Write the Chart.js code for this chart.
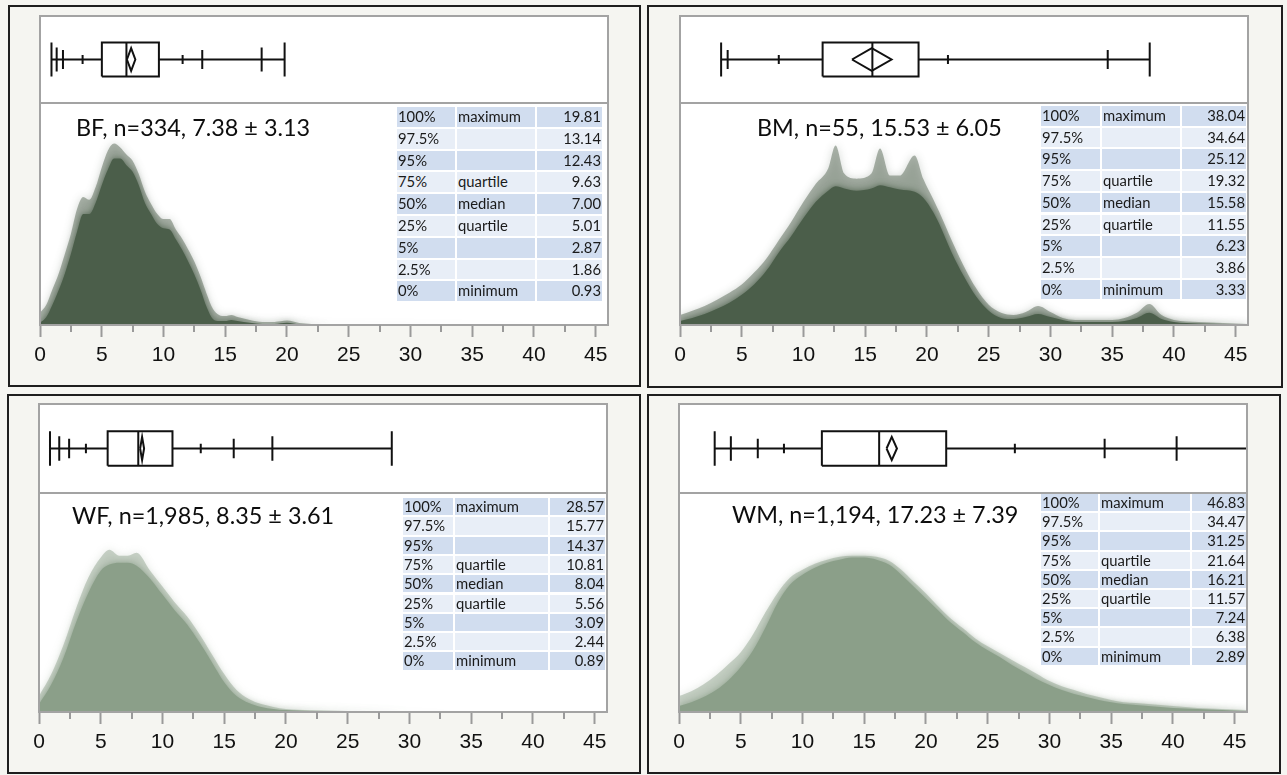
<!DOCTYPE html>
<html>
<head>
<meta charset="utf-8">
<script src="https://cdn.jsdelivr.net/npm/chart.js@4.4.1/dist/chart.umd.min.js"></script>
<style>
  html, body { margin:0; padding:0; width:1287px; height:775px; overflow:hidden; background:#f5f5f1; }
  .panel { position:absolute; box-sizing:border-box; border:2px solid #1e1e1e; background:#f5f5f1; }
  .panel canvas { position:absolute; left:0; top:0; }
  .title { position:absolute; font-family:Lato, "Open Sans", sans-serif; font-size:23.4px; color:#0d0d0d; white-space:nowrap; line-height:26px; height:26px; }
  .cell { position:absolute; box-sizing:border-box; font-family:Lato, "Open Sans", sans-serif; font-size:14.8px; color:#1a1a1a; white-space:nowrap; padding:0 1px; overflow:hidden; }
  .cell.num { text-align:right; }
</style>
</head>
<body>
<script>
// ---------------- data ----------------
const xTickValues = [0, 5, 10, 15, 20, 25, 30, 35, 40, 45];

const groupNames = ['BF', 'BM', 'WF', 'WM'];
const groupN     = [334, 55, 1985, 1194];
const groupMean  = [7.38, 15.53, 8.35, 17.23];
const groupSD    = [3.13, 6.05, 3.61, 7.39];
// 95% confidence interval of the mean (mean diamond)
const bfMeanCI = [7.04, 7.72];
const bmMeanCI = [13.93, 17.13];
const wfMeanCI = [8.19, 8.51];
const wmMeanCI = [16.81, 17.65];

// quantile table rows
const quantileLevels = ['100%', '97.5%', '95%', '75%', '50%', '25%', '5%', '2.5%', '0%'];
const quantileNames  = ['maximum', '', '', 'quartile', 'median', 'quartile', '', '', 'minimum'];
const bfQuantiles = [19.81, 13.14, 12.43, 9.63, 7.00, 5.01, 2.87, 1.86, 0.93];
const bmQuantiles = [38.04, 34.64, 25.12, 19.32, 15.58, 11.55, 6.23, 3.86, 3.33];
const wfQuantiles = [28.57, 15.77, 14.37, 10.81, 8.04, 5.56, 3.09, 2.44, 0.89];
const wmQuantiles = [46.83, 34.47, 31.25, 21.64, 16.21, 11.57, 7.24, 6.38, 2.89];

// extra whisker marks: 0.5%, 10%, 90%, 99.5%
const bfTailMarks = [1.35, 3.45, 11.55, 17.95];
const bmTailMarks = [3.33, 8.0, 21.7, 38.04];
const wfTailMarks = [1.64, 3.8, 13.1, 18.9];
const wmTailMarks = [4.2, 8.5, 27.2, 40.3];

// density shadowgram: outer (faint) envelope and solid core, relative density (0-100)
const bfDensityX     = [0,0.5,1,1.5,2,2.5,3,3.5,4,4.5,5,5.5,6,6.5,7,7.5,8,8.5,9,9.5,10,10.5,11,11.5,12,12.5,13,13.5,14,14.5,15,15.5,16,17,18,19,20,21,22,25,46];
const bfDensityOuter = [5.5,9,16,23,31.8,41,52.3,57.7,56.4,62,71,78.6,81.8,80,76.8,74,68,60,54.5,50,47.7,47.7,43,39,34,28.6,21.8,14,7.3,4.5,4,4.5,3.6,2.3,1.4,1.4,2,0.9,0.5,0.2,0];
const bfDensityCore  = [1,3.5,9,15.5,23,32,42,50,50,55,63,70,75,75,72,69,63,55,50,45.5,43.6,43,38.6,34,28.6,22.7,15.9,8,2.7,1.8,1.8,2.3,1.8,1,0.5,0.5,1,0.3,0.1,0,0];

const bmDensityX     = [0,1,2,3,4,5,6,7,8,9,10,11,12,12.6,13.3,14.3,15.5,16.2,17,17.8,19,19.7,20.5,21,22,23,24,25,26,27,28,29,30,31,32,33,34,35,36,37,38,39,40,42,44,46];
const bmDensityOuter = [4.5,6.4,8.6,11.4,14.5,18.2,23.6,30.0,38.2,46.4,55.5,63.6,70.5,80.9,68.2,65.9,68.2,79.5,67.3,67.3,76.4,65.9,56.8,50.9,38.2,26.4,16.4,9.1,5.5,4.5,5.9,8.6,5.9,3.2,2.3,2.3,2.3,2.3,3.2,5.5,9.5,4.5,2.3,1.4,0.9,0.5];
const bmDensityCore  = [1.8,3.2,5.0,7.3,10.0,13.6,18.2,24.5,32.7,40.0,48.2,55.5,60.5,62.5,61.5,60.5,61.5,63.0,62.0,61.0,60.0,57.3,50.9,45.5,32.7,21.8,12.7,6.4,3.2,2.7,3.6,5.0,3.6,2.3,1.4,1.4,1.4,1.4,1.8,3.2,5.5,2.7,1.4,0.7,0.5,0.2];

const wfDensityX     = [0,1,2,3,4,5,5.7,6.5,7.2,7.9,9,10,11,12,13,14,15,16,17,18,19,20,22,25,30,46];
const wfDensityOuter = [7.3,17.3,30.9,47.3,61.4,70.5,74.1,71.4,71.4,72.7,64.5,57.3,50.0,43.6,35.5,26.4,17.3,10.0,5.9,3.6,2.3,1.4,0.9,0.5,0.1,0];
const wfDensityCore  = [3.6,12.7,25.0,40.9,54.5,64.5,67.3,68.2,68.2,66.8,60.9,53.6,46.4,40.0,31.8,22.7,13.6,7.3,4.1,2.3,1.4,0.9,0.5,0.2,0,0];

const wmDensityX     = [0,1,2,3,4,5,6,7,8,9,10,11,12,13,14,15,16,17,18,19,20,21,22,23,24,25,26,27,28,29,30,31,32,33,34,35,36,37,38,40,42,44,46];
const wmDensityOuter = [7.3,9.5,12.7,16.8,21.8,27.3,35.5,45.5,54.5,61.4,65.0,67.7,69.5,70.9,71.4,71.4,70.9,69.1,65.0,59.5,54.1,48.2,42.7,38.2,33.6,30.0,26.8,23.6,20.5,17.3,14.1,11.8,10.0,8.2,6.8,5.5,4.5,4.1,3.6,2.7,1.8,1.4,0.9];
const wmDensityCore  = [2.7,4.5,6.8,10.0,14.5,20.5,28.2,38.6,50.0,58.2,62.7,65.9,68.2,69.5,70.5,70.5,69.5,67.3,62.7,57.3,51.8,46.4,40.9,36.4,31.8,28.2,25.0,21.4,18.2,15.0,12.3,10.0,8.2,6.8,5.5,4.5,3.6,3.2,2.7,1.8,1.4,0.9,0.5];

// ---------------- layout ----------------
const panels = [
  { quantiles: bfQuantiles, tails: bfTailMarks, ci: bfMeanCI, densX: bfDensityX, outer: bfDensityOuter, core: bfDensityCore,
    rgb: [75, 94, 74],
    frame: { left: 8, top: 5, width: 633, height: 382 },
    area: { left: 40, top: 16, right: 608, bottom: 325 }, boxH: 87, denH: 222,
    title: { left: 76, cy: 127 },
    table: { left: 397, top: 107, cols: [58, 78, 65], rowH: 21.8 } },
  { quantiles: bmQuantiles, tails: bmTailMarks, ci: bmMeanCI, densX: bmDensityX, outer: bmDensityOuter, core: bmDensityCore,
    rgb: [75, 94, 74],
    frame: { left: 647, top: 5, width: 636, height: 383 },
    area: { left: 680, top: 16, right: 1248, bottom: 325 }, boxH: 87, denH: 222,
    title: { left: 757, cy: 127 },
    table: { left: 1041, top: 106, cols: [59, 78, 64], rowH: 21.7 } },
  { quantiles: wfQuantiles, tails: wfTailMarks, ci: wfMeanCI, densX: wfDensityX, outer: wfDensityOuter, core: wfDensityCore,
    rgb: [139, 159, 137],
    frame: { left: 7, top: 394, width: 634, height: 380 },
    area: { left: 39, top: 404, right: 607, bottom: 712 }, boxH: 89, denH: 219,
    title: { left: 72, cy: 515 },
    table: { left: 403, top: 498, cols: [50, 93, 55], rowH: 19.3 } },
  { quantiles: wmQuantiles, tails: wmTailMarks, ci: wmMeanCI, densX: wmDensityX, outer: wmDensityOuter, core: wmDensityCore,
    rgb: [139, 159, 137],
    frame: { left: 647, top: 394, width: 634, height: 380 },
    area: { left: 679, top: 404, right: 1247, bottom: 712 }, boxH: 89, denH: 219,
    title: { left: 732, cy: 514 },
    table: { left: 1041, top: 494, cols: [57, 90, 54], rowH: 19.2 } }
];

// ---------------- plugins ----------------
// soft, layered edge on the density fills (runs before the filler so the fill gets the blur)
const softEdge = {
  id: 'softEdge',
  beforeDatasetDraw(chart, args) {
    const ds = chart.data.datasets[args.index];
    if (ds.softBlur) {
      chart.ctx.save();
      chart.ctx.shadowColor = ds.softColor;
      chart.ctx.shadowBlur = ds.softBlur;
    }
  },
  afterDatasetDraw(chart, args) {
    const ds = chart.data.datasets[args.index];
    if (ds.softBlur) chart.ctx.restore();
  }
};
if (Chart.Filler) {
  Chart.unregister(Chart.Filler);
  Chart.register(softEdge);
  Chart.register(Chart.Filler);
} else {
  Chart.register(softEdge);
}

// white plot frame, box/density divider and minor x ticks
const framePlugin = {
  id: 'frame',
  beforeDraw(chart) {
    const { ctx, chartArea: a } = chart;
    ctx.save();
    ctx.fillStyle = '#ffffff';
    ctx.fillRect(a.left, a.top, a.right - a.left, a.bottom - a.top);
    ctx.restore();
  },
  afterDraw(chart) {
    const { ctx, chartArea: a, scales } = chart;
    ctx.save();
    ctx.strokeStyle = '#a3a3a3';
    ctx.lineWidth = 2;
    ctx.strokeRect(a.left, a.top, a.right - a.left, a.bottom - a.top);
    const ySplit = scales.yBox.bottom;
    ctx.beginPath();
    ctx.moveTo(a.left, ySplit);
    ctx.lineTo(a.right, ySplit);
    ctx.stroke();
    const xs = scales.x;
    ctx.strokeStyle = '#9a9a9a';
    for (let v = 2.5; v < xs.max; v += 5) {
      const px = Math.round(xs.getPixelForValue(v));
      ctx.beginPath();
      ctx.moveTo(px, a.bottom);
      ctx.lineTo(px, a.bottom + 7);
      ctx.stroke();
    }
    ctx.restore();
  }
};

// ---------------- builders ----------------
const BOX_HALF = 0.195, MARK_995 = 0.138, MARK_975 = 0.109, MARK_90 = 0.052, DIAMOND_HALF = 0.13, MID = 0.5;

function segment(x0, y0, x1, y1) {
  return [{ x: x0, y: y0 }, { x: x1, y: y1 }, { x: x1, y: null }];
}
function vmark(x, h) { return segment(x, MID - h, x, MID + h); }

function boxPlotPoints(q, tails) {
  const [qMax, q975, , q3, med, q1, , q25, qMin] = q;
  const [t005, t10, t90, t995] = tails;
  return [
    ...segment(qMin, MID, q1, MID),
    ...segment(q3, MID, qMax, MID),
    { x: q1, y: MID - BOX_HALF }, { x: q3, y: MID - BOX_HALF }, { x: q3, y: MID + BOX_HALF },
    { x: q1, y: MID + BOX_HALF }, { x: q1, y: MID - BOX_HALF }, { x: q1, y: null },
    ...vmark(med, BOX_HALF),
    ...vmark(qMin, BOX_HALF), ...vmark(qMax, BOX_HALF),
    ...vmark(t005, MARK_995), ...vmark(t995, MARK_995),
    ...vmark(q25, MARK_975), ...vmark(q975, MARK_975),
    ...vmark(t10, MARK_90), ...vmark(t90, MARK_90)
  ];
}

function diamondPoints(mean, ci) {
  return [
    { x: ci[0], y: MID }, { x: mean, y: MID + DIAMOND_HALF }, { x: ci[1], y: MID },
    { x: mean, y: MID - DIAMOND_HALF }, { x: ci[0], y: MID }
  ];
}

function zipXY(xs, ys) { return xs.map((x, i) => ({ x, y: ys[i] })); }

const AXIS_H = 40;

panels.forEach((p, i) => {
  const div = document.createElement('div');
  div.className = 'panel';
  Object.assign(div.style, {
    left: p.frame.left + 'px', top: p.frame.top + 'px',
    width: p.frame.width + 'px', height: p.frame.height + 'px'
  });
  document.body.appendChild(div);

  const cw = p.frame.width - 4, ch = p.frame.height - 4;
  const ox = p.frame.left + 2, oy = p.frame.top + 2;
  const canvas = document.createElement('canvas');
  canvas.width = cw; canvas.height = ch;
  canvas.style.width = cw + 'px'; canvas.style.height = ch + 'px';
  div.appendChild(canvas);

  const [r, g, b] = p.rgb;
  const lineStyle = {
    borderColor: '#111111', borderWidth: 2, pointRadius: 0, fill: false, tension: 0,
    spanGaps: false, yAxisID: 'yBox', borderJoinStyle: 'miter', borderCapStyle: 'butt', order: 0
  };

  new Chart(canvas, {
    type: 'line',
    data: {
      datasets: [
        { ...lineStyle, label: 'box plot', data: boxPlotPoints(p.quantiles, p.tails) },
        { ...lineStyle, label: 'mean diamond', data: diamondPoints(groupMean[i], p.ci) },
        { label: 'density core', data: zipXY(p.densX, p.core), yAxisID: 'yDen',
          backgroundColor: `rgb(${r},${g},${b})`, borderWidth: 0, borderColor: 'rgba(0,0,0,0)',
          fill: 'origin', pointRadius: 0, tension: 0.35, cubicInterpolationMode: 'monotone', order: 1,
          softBlur: 6, softColor: `rgba(${r},${g},${b},0.9)` },
        { label: 'density envelope', data: zipXY(p.densX, p.outer), yAxisID: 'yDen',
          backgroundColor: `rgba(${r},${g},${b},0.45)`, borderWidth: 0, borderColor: 'rgba(0,0,0,0)',
          fill: 'origin', pointRadius: 0, tension: 0.35, cubicInterpolationMode: 'monotone', order: 2,
          softBlur: 8, softColor: `rgba(${r},${g},${b},0.5)` }
      ]
    },
    options: {
      responsive: false,
      animation: false,
      events: [],
      layout: {
        padding: {
          left: p.area.left - ox,
          top: p.area.top - oy,
          right: ox + cw - p.area.right,
          bottom: oy + ch - p.area.bottom - AXIS_H
        }
      },
      plugins: { legend: { display: false }, tooltip: { enabled: false } },
      scales: {
        x: {
          type: 'linear', min: 0, max: 46,
          afterBuildTicks: (axis) => { axis.ticks = xTickValues.map(v => ({ value: v })); },
          afterFit: (axis) => { axis.height = AXIS_H; },
          ticks: { includeBounds: false, padding: 6, color: '#111111', maxRotation: 0, autoSkip: false,
                   font: { family: "'Liberation Sans', Arial, sans-serif", size: 21 } },
          grid: { drawOnChartArea: false, drawTicks: true, tickLength: 12, tickColor: '#9a9a9a', tickWidth: 2 },
          border: { display: false }
        },
        // stacked vertically: density below, box plot strip above
        yDen: { type: 'linear', min: 0, max: 100, display: false, position: 'left', stack: 'panel', stackWeight: p.denH },
        yBox: { type: 'linear', min: 0, max: 1, display: false, position: 'left', stack: 'panel', stackWeight: p.boxH }
      }
    },
    plugins: [framePlugin]
  });

  // title: group, n, mean ± sd
  const t = document.createElement('div');
  t.className = 'title';
  t.textContent = `${groupNames[i]}, n=${groupN[i].toLocaleString('en-US')}, ${groupMean[i].toFixed(2)} \u00b1 ${groupSD[i].toFixed(2)}`;
  t.style.left = p.title.left + 'px';
  t.style.top = (p.title.cy - 13) + 'px';
  document.body.appendChild(t);

  // quantile table
  const tb = p.table;
  for (let row = 0; row < quantileLevels.length; row++) {
    const bg = row % 2 === 0 ? '#d1ddef' : '#e8eef7';
    const texts = [quantileLevels[row], quantileNames[row], p.quantiles[row].toFixed(2)];
    let x = tb.left;
    const y = tb.top + row * tb.rowH;
    for (let c = 0; c < 3; c++) {
      const cell = document.createElement('div');
      cell.className = 'cell' + (c === 2 ? ' num' : '');
      Object.assign(cell.style, {
        left: x + 'px', top: y + 'px', width: tb.cols[c] + 'px', height: (tb.rowH - 2) + 'px',
        lineHeight: (tb.rowH - 2) + 'px', background: bg
      });
      cell.textContent = texts[c];
      document.body.appendChild(cell);
      x += tb.cols[c] + 2;
    }
  }
});
</script>
</body>
</html>
